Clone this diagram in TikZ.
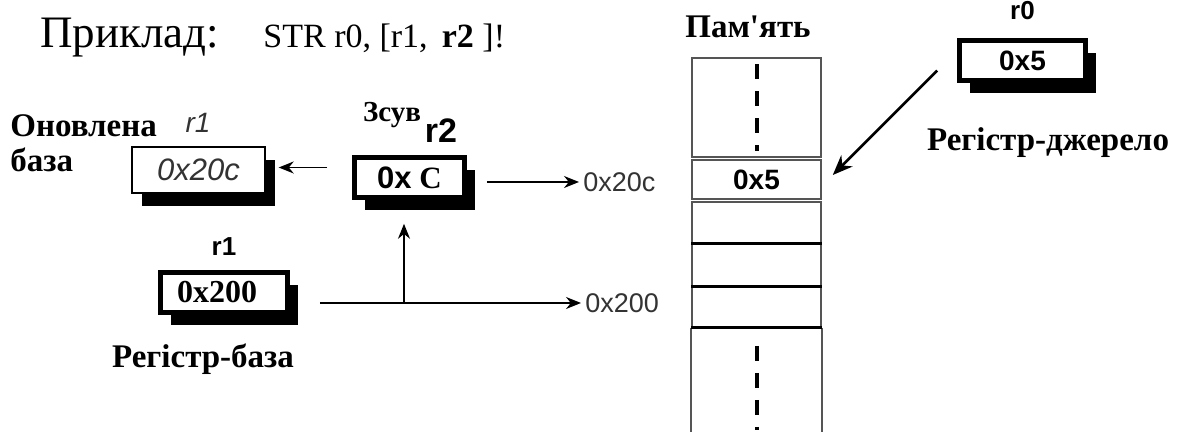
\documentclass[tikz,border=0pt]{standalone}
\usepackage{fontspec}
\setmainfont{Liberation Serif}
\setsansfont{Liberation Sans}
\newfontfamily\plainser{Liberation Serif}[Ligatures=TeXOff]
\usetikzlibrary{arrows.meta,shadows,positioning}

\definecolor{ink}{HTML}{333333}
\definecolor{rim}{HTML}{555555}

\tikzset{
    reg/.style={draw, fill=white, line width=2.3pt, inner sep=0, minimum width=63pt, minimum height=20pt,
        drop shadow={shadow xshift=5pt, shadow yshift=-6.5pt, fill=black, opacity=1}},
    regthin/.style={reg, line width=0.7pt},
    cell/.style={draw=rim, line width=0.8pt, fill=white, inner sep=0, minimum width=64.5pt},
    sep/.style={line width=1.3pt},
    gap/.style={line width=2pt, dash pattern=on 7.5pt off 6pt},
    tag/.style={font=\bfseries\fontsize{16.5}{19}\selectfont},
    nm/.style={font=\sffamily\bfseries\fontsize{13}{15}\selectfont},
    addr/.style={font=\sffamily\fontsize{13.5}{15}\selectfont, text=ink, inner sep=2pt},
    link/.style={line width=0.8pt, -{Stealth[length=7.5pt, width=6pt]}}
    }

\begin{document}
\begin{tikzpicture}[x=0.5pt, y=-0.5pt]
    \useasboundingbox (0,0) rectangle (1185,432);
    % heading
    \node (head) [anchor=base west, inner sep=0, font=\fontsize{22.5}{25}\selectfont] at (40,48) {Приклад:};
    \node (instr) [anchor=base west, inner sep=0, font=\fontsize{17}{20}\selectfont] at (263,48) {STR r0, [r1,\, \textbf{r2} ]!};

    % registers
    \node (upd) [regthin, minimum width=66.5pt, minimum height=23pt,
        font=\sffamily\itshape\fontsize{15.5}{17}\selectfont, text=ink] at (198.5,170) {0x20c};
    \node (off) [reg, minimum width=55pt, font=\bfseries\fontsize{15.5}{17}\selectfont] at (409.5,177.5) {\textsf{0x} C};
    \node (base) [reg, minimum width=63.5pt, font=\bfseries\fontsize{16}{18}\selectfont] at (224,292.5) {0x200\kern7pt};
    \node (src) [reg, font=\sffamily\bfseries\fontsize{14}{16}\selectfont] at (1022.5,60.5) {0x5};

    \node (upda) [tag, anchor=base west, inner sep=0] at (10,137) {Оновлена};
    \node (updb) [tag, anchor=base west, inner sep=0] at (10,172) {база};
    \node (updn) [font=\sffamily\itshape\fontsize{14}{16}\selectfont, text=ink] at (198,123) {r1};
    \node (offa) [tag, font=\bfseries\fontsize{14.5}{16}\selectfont] at (392,115) {Зсув};
    \node (offn) [nm, font=\sffamily\bfseries\fontsize{17}{19}\selectfont] at (441,131) {r2};
    \node (basen) [nm, above=4pt of base] {r1};
    \node (basea) [tag, below=11pt of base, xshift=-10.5pt] {Регістр-база};
    \node (srcn) [nm, above=5.5pt of src] {r0};
    \node (srca) [tag] at (1048,143) {Регістр-джерело};

    % memory
    \node (mem) [tag] at (748,27) {Пам{\plainser '}ять};
    \node (mtop) [cell, minimum height=49.5pt] at (756.5,107.5) {};
    \node (m5) [cell, minimum height=19.5pt, font=\sffamily\bfseries\fontsize{14}{16}\selectfont] at (756.5,179.5) {0x5};
    \node (ma) [cell, minimum height=20.5pt] at (756.5,222.5) {};
    \node (mb) [cell, minimum height=21.5pt] at (756.5,264.5) {};
    \node (mc) [cell, minimum height=20.5pt] at (756.5,306.5) {};
    \draw[draw=rim, line width=0.8pt] (mc.south west) -- ++(0,110) (mc.south east) -- ++(0,110);
    \foreach \c in {ma,mb,mc}
        \draw[sep] (\c.south west) -- (\c.south east);
    \draw[gap] ([yshift=-3.5pt]mtop.north) -- ([yshift=3.5pt]mtop.south);
    \draw[gap] ([yshift=-9pt]mc.south) -- ++(0,84);

    % addresses
    \node (addrnew) [addr, anchor=west] at (579,182) {0x20c};
    \node (addrold) [addr, anchor=west] at (581,303) {0x200};
    \coordinate (split) at (404,303);

    \draw[link] ([shift={(-12.5pt,5pt)}]off.west) -- ([shift={(6.5pt,1.25pt)}]upd.east);
    \draw[link] ([shift={(10pt,-2.25pt)}]off.east) -- (addrnew.west);
    \draw[link] ([shift={(15pt,-5.25pt)}]base.east) -- (addrold.west);
    \draw[link, shorten >=12pt] (split) -- (split |- off.south);
    \draw[line width=1.3pt, -{Stealth[length=10pt, width=8pt]}] ([shift={(-10pt,-5pt)}]src.west) -- ([shift={(5.5pt,2.25pt)}]m5.east);
\end{tikzpicture}
\end{document}
